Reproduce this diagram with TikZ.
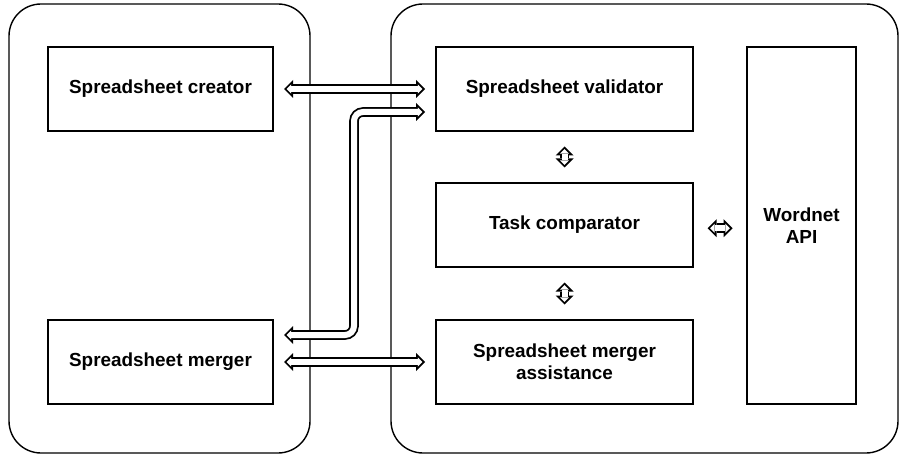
\documentclass[tikz,border=0pt]{standalone}
\usepackage{fontspec}
\setmainfont{Liberation Sans}
\usetikzlibrary{arrows.meta,positioning,calc}

\begin{document}
\begin{tikzpicture}[x=1pt,y=1pt,
	panel/.style={draw, line width=1.4pt, rounded corners=32pt, outer sep=0pt},
	box/.style={draw, line width=1.4pt, minimum width=225pt, minimum height=84pt, align=center, outer sep=0pt, font=\fontsize{18.9}{22}\selectfont\bfseries},
	fat/.style={line width=9.6pt, {Triangle[line width=0pt,length=9pt,width=18pt]}-{Triangle[line width=0pt,length=9pt,width=18pt]}, postaction={draw=white, line width=6pt, shorten <=2.55pt, shorten >=2.55pt, {Triangle[line width=0pt,length=4.65pt,width=9.3pt]}-{Triangle[line width=0pt,length=4.65pt,width=9.3pt]}}}]
	\useasboundingbox (0,0) rectangle (899,-454);
	\node [panel, minimum width=301pt, minimum height=449pt](left_panel) at (159.5,-228.5) {};
	\node [panel, minimum width=507pt, minimum height=449pt](right_panel) at (644.5,-228.5) {};
	\node [box](creator_node) at (160.5,-89) {Spreadsheet creator};
	\node [box](merger_node) at (160.5,-362) {Spreadsheet merger};
	\node [box, minimum width=257pt](validator_node) at (564.5,-89) {Spreadsheet validator};
	\node [box, minimum width=257pt](comparator_node) at (564.5,-225) {Task comparator};
	\node [box, minimum width=257pt](assist_node) at (564.5,-362) {Spreadsheet merger\\assistance};
	\node [box, minimum width=109pt, minimum height=357pt](wordnet_node) at (801.5,-225.5) {Wordnet\\API};
	\coordinate (vc_mid) at ($(validator_node.south)!0.5!(comparator_node.north)$);
	\coordinate (ca_mid) at ($(comparator_node.south)!0.5!(assist_node.north)$);
	\coordinate (cw_mid) at ($(comparator_node.east)!0.5!(wordnet_node.west)+(0,-3)$);
	\draw [fat] ([xshift=11pt]creator_node.east) -- ([xshift=-11pt]validator_node.west);
	\draw [fat, rounded corners=9pt] ([xshift=11pt,yshift=27pt]merger_node.east) -- ++(70,0) |- ([xshift=-11pt,yshift=-23pt]validator_node.west);
	\draw [fat] ([xshift=11pt]merger_node.east) -- ([xshift=-11pt]assist_node.west);
	\draw [fat] ([yshift=10.5pt]vc_mid) -- ([yshift=-10.5pt]vc_mid);
	\draw [fat] ([yshift=11pt]ca_mid) -- ([yshift=-11pt]ca_mid);
	\draw [fat] ([xshift=-12.5pt]cw_mid) -- ([xshift=12.5pt]cw_mid);
\end{tikzpicture}
\end{document}
